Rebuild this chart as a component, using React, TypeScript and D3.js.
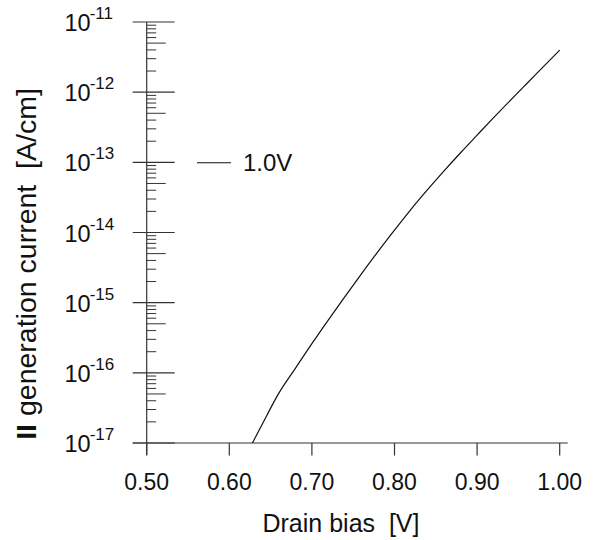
import React from "react";
import * as d3 from "d3";

const biasV = [0.628, 0.64, 0.66, 0.68, 0.7, 0.72, 0.74, 0.76, 0.78, 0.8, 0.82, 0.84, 0.86, 0.88, 0.9, 0.92, 0.94, 0.96, 0.98, 1.0];
const currentA = [1.0e-17, 1.86e-17, 5.13e-17, 1.16e-16, 2.61e-16, 5.7e-16, 1.22e-15, 2.58e-15, 5.35e-15, 1.08e-14, 2.14e-14, 4.07e-14, 7.55e-14, 1.37e-13, 2.44e-13, 4.33e-13, 7.59e-13, 1.32e-12, 2.29e-12, 3.98e-12];
const xTicks = [0.5, 0.6, 0.7, 0.8, 0.9, 1.0];
const yExponents = [-17, -16, -15, -14, -13, -12, -11];
const legendLabel = "1.0V";
const xTitle = "Drain bias  [V]";
const yTitleBold = "II";
const yTitleRest = " generation current  [A/cm]";

const W = 593;
const H = 540;
const FONT = "'Liberation Sans', Arial, Helvetica, sans-serif";
const AX = "#333";

export default function App() {
  const x = d3.scaleLinear().domain([0.5, 1.0]).range([146.7, 559.7]);
  const y = d3.scaleLog().domain([1e-17, 1e-11]).range([443, 22]);
  const x0 = x(0.5);
  const yBottom = y(1e-17);

  const pts = biasV.map((v, i) => [v, currentA[i]] as [number, number]);
  const line = d3
    .line<[number, number]>()
    .x((d) => x(d[0]))
    .y((d) => y(d[1]))
    .curve(d3.curveMonotoneX);

  const minor: { v: number; m: number }[] = [];
  for (let e = -17; e < -11; e++) {
    for (let m = 2; m <= 9; m++) minor.push({ v: m * Math.pow(10, e), m });
  }

  return (
    <svg
      width={W}
      height={H}
      style={{ position: "absolute", left: 0, top: 0, background: "#fff" }}
      fontFamily={FONT}
    >
      <rect width={W} height={H} fill="#fff" />
      {/* axes */}
      <line x1={x0} x2={x0} y1={y(1e-11)} y2={yBottom + 12} stroke={AX} strokeWidth={1.2} />
      <line x1={x0 - 14} x2={x(1.0) + 8} y1={yBottom} y2={yBottom} stroke={AX} strokeWidth={1.2} />
      {/* y major ticks */}
      {yExponents.map((e) => (
        <line key={"ym" + e} x1={x0 - 14} x2={x0 + 28} y1={y(Math.pow(10, e))} y2={y(Math.pow(10, e))} stroke={AX} strokeWidth={1.2} />
      ))}
      {/* y minor ticks */}
      {minor.map((t, i) => (
        <line key={"yn" + i} x1={x0} x2={x0 + (t.m === 5 ? 19 : 9.5)} y1={y(t.v)} y2={y(t.v)} stroke={AX} strokeWidth={1} />
      ))}
      {/* y tick labels */}
      {yExponents.map((e) => {
        const yy = y(Math.pow(10, e));
        return (
          <text key={"yl" + e} x={64.5} y={yy + 9} fontSize={23.5} fill="#111">
            <tspan>10</tspan>
            <tspan dx={-1} dy={-12} fontSize={17}>{String(e)}</tspan>
          </text>
        );
      })}
      {/* x ticks */}
      {xTicks.map((v) => (
        <g key={"xt" + v}>
          <line x1={x(v)} x2={x(v)} y1={yBottom} y2={yBottom + 12.5} stroke={AX} strokeWidth={1.2} />
          <text x={x(v)} y={489.5} fontSize={23} textAnchor="middle" fill="#111">{v.toFixed(2)}</text>
        </g>
      ))}
      {/* curve */}
      <path d={line(pts) || ""} fill="none" stroke="#111" strokeWidth={1.2} />
      {/* legend */}
      <line x1={197} x2={231} y1={162.7} y2={162.7} stroke="#111" strokeWidth={1.1} />
      <text x={243} y={170.8} fontSize={24} fill="#111">{legendLabel}</text>
      {/* titles */}
      <text x={341} y={531.5} fontSize={25} textAnchor="middle" fill="#111" style={{ whiteSpace: "pre" }}>{xTitle}</text>
      <text transform="translate(36,264) rotate(-90)" fontSize={28.5} textAnchor="middle" fill="#111" style={{ whiteSpace: "pre" }}>
        <tspan fontWeight="bold">{yTitleBold}</tspan>
        <tspan>{yTitleRest}</tspan>
      </text>
    </svg>
  );
}
